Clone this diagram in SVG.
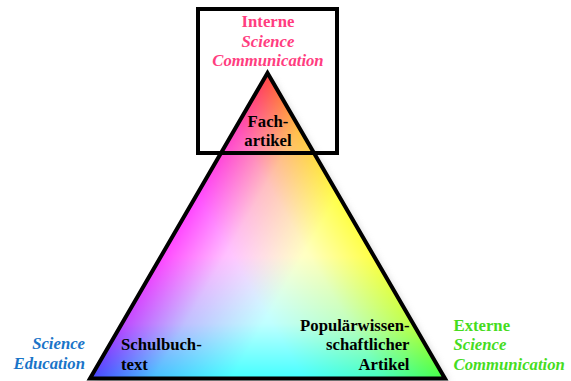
<svg xmlns="http://www.w3.org/2000/svg" width="571" height="381" viewBox="0 0 571 381">
<style>
  text { font-family: "Liberation Serif", "Times New Roman", serif; font-weight: bold; font-size: 16.7px; }
  .it { font-style: italic; }
  .pink { fill: #ff3d7f; }
  .blue { fill: #1a74c8; }
  .green { fill: #46dc1e; }
  .black { fill: #000; }
  .scr { mix-blend-mode: screen; }
</style>
<defs>
  <linearGradient id="gR" gradientUnits="userSpaceOnUse" x1="267.5" y1="73" x2="267.5" y2="378.5">
    <stop offset="0" stop-color="#ff0000"/>
    <stop offset="0.6" stop-color="#ff0000"/>
    <stop offset="0.82" stop-color="#a80000"/>
    <stop offset="1" stop-color="#000000"/>
  </linearGradient>
  <linearGradient id="gB" gradientUnits="userSpaceOnUse" x1="90" y1="378.5" x2="354.8" y2="223.5">
    <stop offset="0" stop-color="#0000ff"/>
    <stop offset="0.6" stop-color="#0000ff"/>
    <stop offset="0.82" stop-color="#0000a8"/>
    <stop offset="1" stop-color="#000000"/>
  </linearGradient>
  <linearGradient id="gG" gradientUnits="userSpaceOnUse" x1="445" y1="378.5" x2="179.4" y2="223.9">
    <stop offset="0" stop-color="#00ff00"/>
    <stop offset="0.6" stop-color="#00ff00"/>
    <stop offset="0.82" stop-color="#00a800"/>
    <stop offset="1" stop-color="#000000"/>
  </linearGradient>
  <filter id="sh" x="-10%" y="-10%" width="120%" height="120%">
    <feGaussianBlur stdDeviation="3"/>
  </filter>
</defs>

<g id="triangle">
  <polygon points="272,77 95,382.5 450,382.5" fill="#c0c0c0" opacity="0.6" filter="url(#sh)"/>
  <g style="isolation:isolate">
    <polygon points="267.5,73 90,378.5 445,378.5" fill="#444444"/>
    <polygon class="scr" points="267.5,73 90,378.5 445,378.5" fill="url(#gR)"/>
    <polygon class="scr" points="267.5,73 90,378.5 445,378.5" fill="url(#gB)"/>
    <polygon class="scr" points="267.5,73 90,378.5 445,378.5" fill="url(#gG)"/>
  </g>
  <polygon points="267.5,73 90,378.5 445,378.5" fill="none" stroke="#000" stroke-width="4" stroke-linejoin="miter"/>
</g>

<g id="frame">
  <rect x="198" y="9" width="139" height="144" fill="none" stroke="#000" stroke-width="4"/>
</g>

<g id="interne">
  <text class="pink" x="268" y="27" text-anchor="middle">Interne</text>
  <text class="pink it" x="268" y="46.5" text-anchor="middle">Science</text>
  <text class="pink it" x="268" y="66" text-anchor="middle">Communication</text>
</g>

<g id="fachartikel">
  <text class="black" x="268" y="127" text-anchor="middle">Fach-</text>
  <text class="black" x="268" y="146" text-anchor="middle">artikel</text>
</g>

<g id="schulbuchtext">
  <text class="black" x="121" y="350">Schulbuch-</text>
  <text class="black" x="121" y="370">text</text>
</g>

<g id="populaer">
  <text class="black" x="409.5" y="330.5" text-anchor="end">Populärwissen-</text>
  <text class="black" x="409.5" y="350" text-anchor="end">schaftlicher</text>
  <text class="black" x="409.5" y="370" text-anchor="end">Artikel</text>
</g>

<g id="education">
  <text class="blue it" x="85" y="349" text-anchor="end">Science</text>
  <text class="blue it" x="85" y="369" text-anchor="end">Education</text>
</g>

<g id="externe">
  <text class="green" x="453.5" y="330.5">Externe</text>
  <text class="green it" x="453.5" y="350">Science</text>
  <text class="green it" x="453.5" y="370">Communication</text>
</g>
</svg>
